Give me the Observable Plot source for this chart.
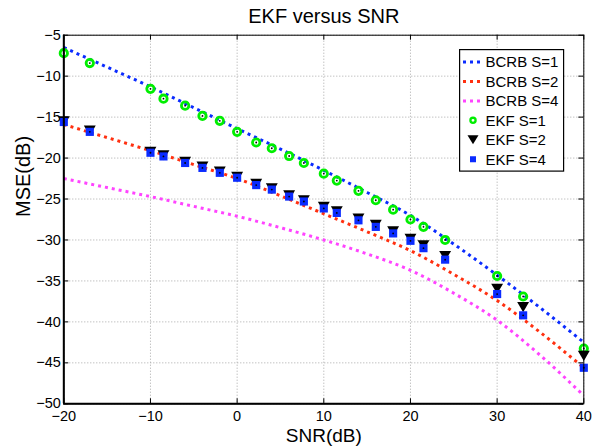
<!DOCTYPE html>
<html><head><meta charset="utf-8">
<script src="https://cdn.jsdelivr.net/npm/d3@7"></script>
<script src="https://cdn.jsdelivr.net/npm/@observablehq/plot@0.6"></script>
<style>
html,body{margin:0;padding:0;background:#fff;}
#chart{position:relative;width:592px;height:448px;font-family:"Liberation Sans",Arial,Helvetica,sans-serif;}
#legend{position:absolute;left:459px;top:49px;}
</style></head><body><div id="chart"></div>
<script>
// ---- text ----
const title = "EKF versus SNR";
const xLabel = "SNR(dB)";
const yLabel = "MSE(dB)";
const xTicks = [-20, -10, 0, 10, 20, 30, 40];
const yTicks = [-50, -45, -40, -35, -30, -25, -20, -15, -10, -5];
const seriesNames = ["BCRB S=1", "BCRB S=2", "BCRB S=4", "EKF S=1", "EKF S=2", "EKF S=4"];
const seriesColors = ["#0a2bff", "#ff3010", "#ff44ff", "#00ee00", "#000000", "#0a2bff"];

// ---- BCRB curves ----
const bcrbSnr = [-20, -15, -10, -5, 0, 5, 10, 15, 20, 25, 30, 35, 40];
const bcrbS1 = [-6.5, -8.9, -11.3, -13.85, -16.4, -18.9, -21.5, -24.2, -27.0, -30.5, -34.3, -38.3, -42.5];
const bcrbS2 = [-15.9, -17.5, -19.1, -20.8, -22.5, -24.6, -26.8, -29.0, -31.3, -34.2, -37.4, -41.3, -45.6];
const bcrbS4 = [-22.5, -23.6, -24.7, -25.9, -27.1, -28.5, -30.0, -31.7, -33.7, -36.5, -39.8, -44.1, -49.0];

// ---- EKF points ----
const ekfSnr = [-20, -17, -10, -8.5, -6, -4, -2, 0, 2.2, 4, 6, 7.7, 10, 11.5, 14, 16, 18, 20, 21.5, 24, 30, 33, 40];
const ekfS1 = [-7.2, -8.4, -11.55, -12.75, -13.6, -14.85, -15.45, -16.8, -18.1, -18.8, -19.75, -20.6, -21.9, -22.75, -24.0, -25.15, -26.3, -27.5, -28.4, -30.0, -34.4, -36.9, -43.25];
const ekfS2 = [-15.5, -16.65, -19.25, -19.65, -20.45, -21.05, -21.65, -22.3, -23.15, -23.7, -24.55, -25.15, -25.95, -26.5, -27.4, -28.15, -28.95, -29.85, -30.65, -31.95, -35.95, -38.2, -44.15];
const ekfS4 = [-15.6, -16.8, -19.35, -19.8, -20.6, -21.2, -21.8, -22.4, -23.3, -23.85, -24.7, -25.3, -26.15, -26.7, -27.6, -28.4, -29.2, -30.1, -31.0, -32.4, -36.6, -39.2, -45.6];

// ---- tables ----
const bcrbRows = bcrbSnr.flatMap((x, i) => [
  {x, y: bcrbS1[i], s: seriesNames[0]},
  {x, y: bcrbS2[i], s: seriesNames[1]},
  {x, y: bcrbS4[i], s: seriesNames[2]}
]);
const ekf1Rows = ekfSnr.map((x, i) => ({x, y: ekfS1[i]}));
const ekf2Rows = ekfSnr.map((x, i) => ({x, y: ekfS2[i]}));
const ekf4Rows = ekfSnr.map((x, i) => ({x, y: ekfS4[i]}));

const triDown = {
  draw(context, size) {
    const w = Math.sqrt(size) * 1.12, h = w * 0.85;
    context.moveTo(-w / 2, -h / 2);
    context.lineTo(w / 2, -h / 2);
    context.lineTo(0, h / 2);
    context.closePath();
  }
};

const W = 592, H = 448;
const mL = 63.3, mR = 8.7, mT = 34.7, mB = 44.7;
const fW = W - mL - mR, fH = H - mT - mB;
const font = "'Liberation Sans', Arial, Helvetica, sans-serif";
const colorOf = n => seriesColors[seriesNames.indexOf(n)];
const gridStyle = {stroke: "#a8a8a8", strokeOpacity: 1, strokeWidth: 1, strokeDasharray: "1,2"};

const chart = Plot.plot({
  width: W, height: H,
  marginLeft: mL, marginRight: mR, marginTop: mT, marginBottom: mB,
  style: {fontFamily: font, background: "white", color: "black", overflow: "visible"},
  x: {domain: [xTicks[0], xTicks[xTicks.length - 1]], label: null},
  y: {domain: [yTicks[0], yTicks[yTicks.length - 1]], label: null},
  color: {domain: seriesNames, range: seriesColors},
  marks: [
    Plot.gridX(xTicks, gridStyle),
    Plot.gridY(yTicks, gridStyle),
    Plot.line(bcrbRows, {x: "x", y: "y", z: "s", stroke: "s", strokeWidth: 3, strokeDasharray: "3,4", strokeLinecap: "butt", curve: "monotone-x"}),
    Plot.dot(ekf1Rows, {x: "x", y: "y", r: 3.7, stroke: colorOf("EKF S=1"), strokeWidth: 2.8, fill: "none"}),
    Plot.dot(ekf2Rows, {x: "x", y: "y", r: 6, symbol: triDown, fill: colorOf("EKF S=2"), stroke: "none"}),
    Plot.dot(ekf4Rows, {x: "x", y: "y", r: 4.6, symbol: "square", fill: colorOf("EKF S=4"), stroke: "none"}),
    Plot.dot(ekf1Rows.concat(ekf4Rows), {x: "x", y: "y", r: 0.9, fill: "black", stroke: "none"}),
    Plot.frame({stroke: "black", strokeWidth: 1}),
    Plot.ruleX([xTicks[0]], {stroke: "black", strokeWidth: 2}),
    Plot.ruleY([yTicks[0]], {stroke: "black", strokeWidth: 2}),
    Plot.tickX(xTicks, {x: d => d, insetTop: fH - 5, stroke: "black"}),
    Plot.tickX(xTicks, {x: d => d, insetBottom: fH - 5, stroke: "black"}),
    Plot.tickY(yTicks, {y: d => d, insetRight: fW - 5, stroke: "black"}),
    Plot.tickY(yTicks, {y: d => d, insetLeft: fW - 5, stroke: "black"}),
    Plot.axisX(xTicks, {tickSize: 0, tickPadding: 6.5, fontSize: 14.5, label: null}),
    Plot.axisY(yTicks, {tickSize: 0, tickPadding: 3, fontSize: 14.5, label: null}),
    Plot.text([title], {frameAnchor: "top", lineAnchor: "bottom", dy: -12, fontSize: 20}),
    Plot.text([xLabel], {frameAnchor: "bottom", lineAnchor: "bottom", dy: 38, fontSize: 19}),
    Plot.text([yLabel], {frameAnchor: "left", rotate: -90, dx: -40, dy: -2.5, fontSize: 20})
  ]
});
document.getElementById("chart").appendChild(chart);

// ---- legend ----
const lg = d3.create("svg").attr("id", "legend").attr("width", 106).attr("height", 124)
  .style("font-family", font);
lg.append("rect").attr("x", 0.6).attr("y", 0.6).attr("width", 104).attr("height", 121.5)
  .attr("fill", "white").attr("stroke", "black").attr("stroke-width", 1.2);
seriesNames.forEach((name, i) => {
  const cy = 13 + i * 19.45;
  const c = seriesColors[i];
  if (i < 3) {
    lg.append("line").attr("x1", 4).attr("x2", 25).attr("y1", cy).attr("y2", cy)
      .attr("stroke", c).attr("stroke-width", 3).attr("stroke-dasharray", "3,4");
  } else if (i === 3) {
    lg.append("circle").attr("cx", 14).attr("cy", cy).attr("r", 2.6)
      .attr("fill", "none").attr("stroke", c).attr("stroke-width", 2.3);
  } else if (i === 4) {
    lg.append("path").attr("d", `M${14 - 5.5},${cy - 4.5}L${14 + 5.5},${cy - 4.5}L14,${cy + 4.5}Z`).attr("fill", c);
  } else {
    lg.append("rect").attr("x", 11).attr("y", cy - 3).attr("width", 6).attr("height", 6).attr("fill", c);
  }
  lg.append("text").attr("x", 26.5).attr("y", cy).attr("dy", "0.36em")
    .attr("font-size", 15).attr("fill", "black").text(name);
});
document.getElementById("chart").appendChild(lg.node());
</script></body></html>
